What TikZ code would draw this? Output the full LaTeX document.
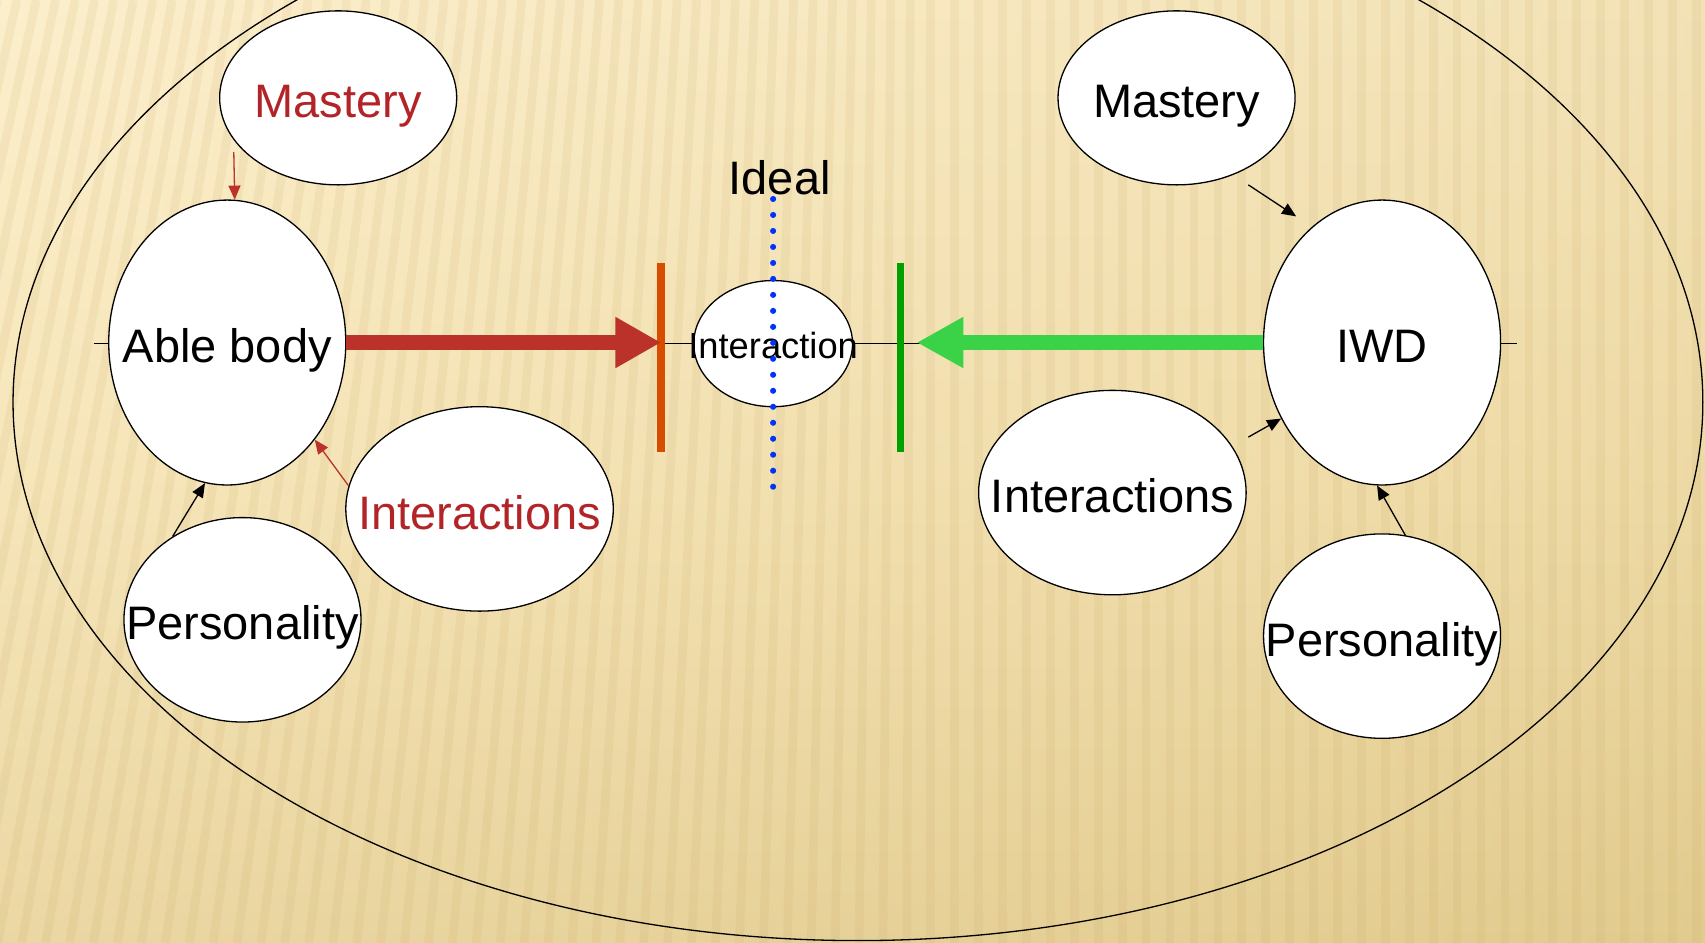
\documentclass[tikz,border=0pt]{standalone}
\usepackage{fontspec}
\setmainfont{Liberation Sans}
\usetikzlibrary{shapes.geometric,arrows.meta}
\definecolor{bgtop}{RGB}{252,239,204}
\definecolor{bgmid}{RGB}{244,226,178}
\definecolor{bgbot}{RGB}{226,203,142}
\definecolor{stripe}{RGB}{196,160,90}
\definecolor{txtred}{RGB}{178,36,40}
\definecolor{arrred}{RGB}{186,50,42}
\definecolor{barorange}{RGB}{216,76,0}
\definecolor{bargreen}{RGB}{0,160,0}
\definecolor{arrgreen}{RGB}{58,210,70}
\definecolor{dotblue}{RGB}{0,51,255}
\begin{document}
\begin{tikzpicture}[x=0.5pt,y=-0.5pt,
  bubble/.style={ellipse, draw=black, line width=0.6pt, fill=white, inner sep=0pt,
                 font=\fontsize{21.6}{26}\selectfont, text height=20pt, text depth=1.5pt},
  smallbubble/.style={bubble, font=\fontsize{16.7}{20}\selectfont, text height=15pt, text depth=1pt},
  smallarr/.style={-{Triangle[length=6.5pt,width=5.5pt]}, line width=0.6pt},
  bigarr/.style={line width=7pt},
  barline/.style={line width=3.5pt}]
% background
\useasboundingbox (0,0) rectangle (1568,867);
\shade[top color=bgtop, bottom color=bgbot, middle color=bgmid] (0,0) rectangle (1568,867);
\shade[left color=bgtop, right color=bgbot, opacity=0.35] (0,0) rectangle (1568,867);
\begin{scope}
\clip (0,0) rectangle (1568,867);
\foreach \x in {-200,-178,...,1590}{
  \pgfmathsetmacro{\dx}{max(0,160*(1-\x/850))}
  \draw[stripe, opacity=0.11, line width=4pt] (\x+\dx,0) -- (\x,867);
}
\end{scope}
% outer ellipse
\draw[line width=0.6pt] (789,370) ellipse [x radius=388.5pt, y radius=247.5pt];
% axis line
\coordinate (axl) at (86,316);
\coordinate (axr) at (1395,316);
\draw[line width=0.6pt] (axl) -- (axr);
% nodes
\node[bubble, minimum width=109pt, minimum height=80pt, text=txtred] (mast1) at (311,90) {\makebox[0pt]{Mastery}};
\node[bubble, minimum width=109pt, minimum height=131pt] (able) at (209,315) {\makebox[0pt]{Able body}};
\node[bubble, minimum width=123pt, minimum height=94pt, text=txtred] (inter1) at (441,468) {\makebox[0pt]{Interactions}};
\node[bubble, minimum width=109pt, minimum height=94pt] (pers1) at (223,570) {\makebox[0pt]{Personality}};
\node[smallbubble, minimum width=73pt, minimum height=58pt] (inter) at (711,316) {\makebox[0pt]{Interaction}};
\node[bubble, minimum width=109pt, minimum height=80pt] (mast2) at (1082,90) {\makebox[0pt]{Mastery}};
\node[bubble, minimum width=109pt, minimum height=131pt] (iwd) at (1271,315) {\makebox[0pt]{IWD}};
\node[bubble, minimum width=123pt, minimum height=94pt] (inter2) at (1023,453) {\makebox[0pt]{Interactions}};
\node[bubble, minimum width=109pt, minimum height=94pt] (pers2) at (1271,585) {\makebox[0pt]{Personality}};
% bars
\coordinate (obt) at (608,242); \coordinate (obb) at (608,416);
\coordinate (gbt) at (828,242); \coordinate (gbb) at (828,416);
\draw[barline, barorange] (obt) -- (obb);
\draw[barline, bargreen] (gbt) -- (gbb);
% big arrows
\coordinate (otip) at (608,315);
\coordinate (gtip) at (843,315);
\draw[bigarr, arrred, -{Triangle[length=21pt,width=22pt]}] (able.east |- otip) -- (otip);
\draw[bigarr, arrgreen, -{Triangle[length=21.5pt,width=22pt]}] (iwd.west |- gtip) -- (gtip);
% small arrows
\coordinate (m1s) at (215,140);
\draw[smallarr, arrred] (m1s) -- (able.87);
\draw[smallarr, arrred] (inter1.170) -- (able.-48);
\draw[smallarr, black] (pers1.130) -- (able.-99.5);
\coordinate (m2s) at (1148,170);
\coordinate (m2e) at (1192,199);
\draw[smallarr] (m2s) -- (m2e);
\coordinate (i2s) at (1148,402);
\draw[smallarr] (i2s) -- (iwd.217.8);
\draw[smallarr] (pers2.77) -- (iwd.-92);
% ideal dotted line
\coordinate (dtop) at (711,183);
\coordinate (dbot) at (711,453);
\draw[dotblue, line width=2.8pt, line cap=round, dash pattern=on 0pt off 7.35pt] (dtop) -- (dbot);
\node[font=\fontsize{21.6}{26}\selectfont, inner sep=0pt] (ideal) at (717,163) {Ideal};
\end{tikzpicture}
\end{document}
